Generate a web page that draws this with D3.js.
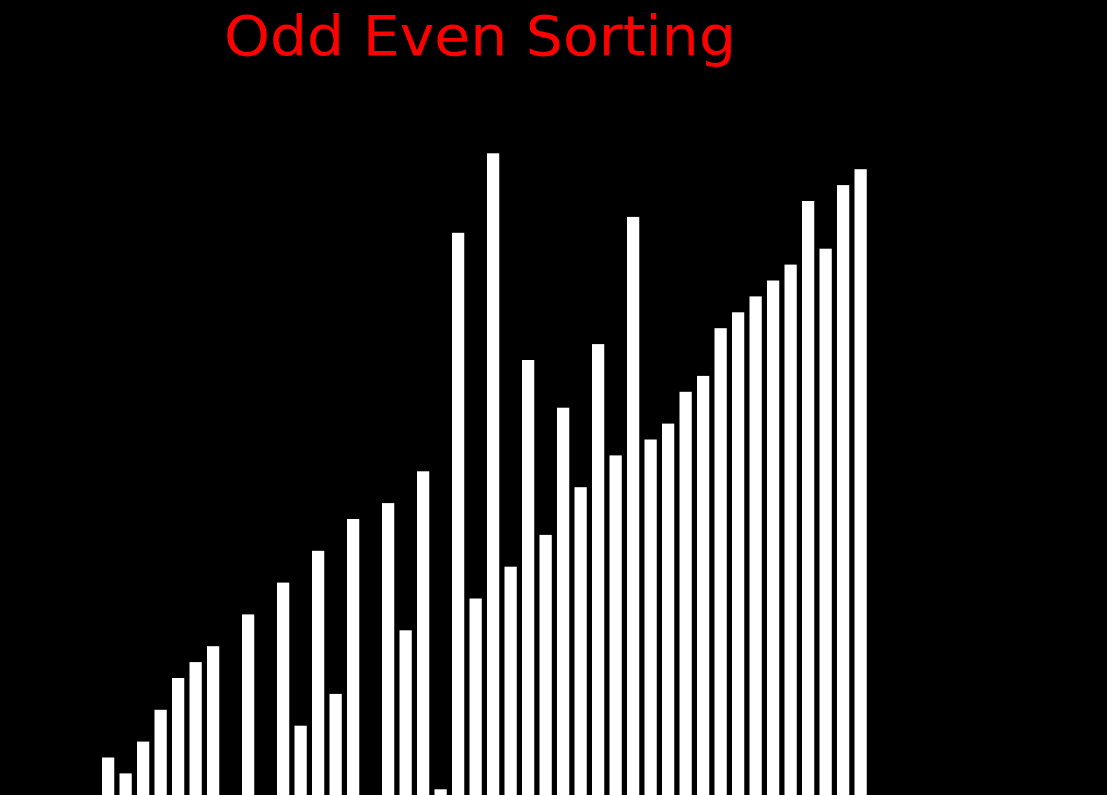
<!DOCTYPE html>
<html>
<head>
<meta charset="utf-8">
<script src="https://cdn.jsdelivr.net/npm/d3@7"></script>
<style>
  html, body { margin: 0; padding: 0; background: #000; overflow: hidden; }
  svg { display: block; }
</style>
</head>
<body>
<script>
const title = "Odd Even Sorting";
const indices = d3.range(44);
const values = [3, 2, 4, 6, 8, 9, 10, 0, 12, 0, 14, 5, 16, 7, 18, 0, 19, 11, 21, 1,
                36, 13, 41, 15, 28, 17, 25, 20, 29, 22, 37, 23, 24, 26, 27, 30, 31, 32, 33, 34,
                38, 35, 39, 40];

const W = 1107, H = 795;
const svg = d3.select("body").append("svg").attr("width", W).attr("height", H);
svg.append("rect").attr("width", W).attr("height", H).attr("fill", "#000");

const x = d3.scaleBand()
  .domain(indices)
  .range([102, 866.75])
  .paddingInner(0.3)
  .paddingOuter(0);

const y = d3.scaleLinear()
  .domain([0, 41])
  .range([805.2, 153.3]);

svg.append("g")
  .selectAll("rect")
  .data(values)
  .join("rect")
  .attr("x", (d, i) => x(i))
  .attr("width", x.bandwidth())
  .attr("y", d => y(d))
  .attr("height", d => y(0) - y(d))
  .attr("fill", "#fff");

svg.append("text")
  .attr("x", 224)
  .attr("y", 55)
  .attr("font-family", "'DejaVu Sans', sans-serif")
  .attr("font-size", 56)
  .attr("fill", "#ff0000")
  .attr("textLength", 512)
  .attr("lengthAdjust", "spacingAndGlyphs")
  .text(title);
</script>
</body>
</html>
